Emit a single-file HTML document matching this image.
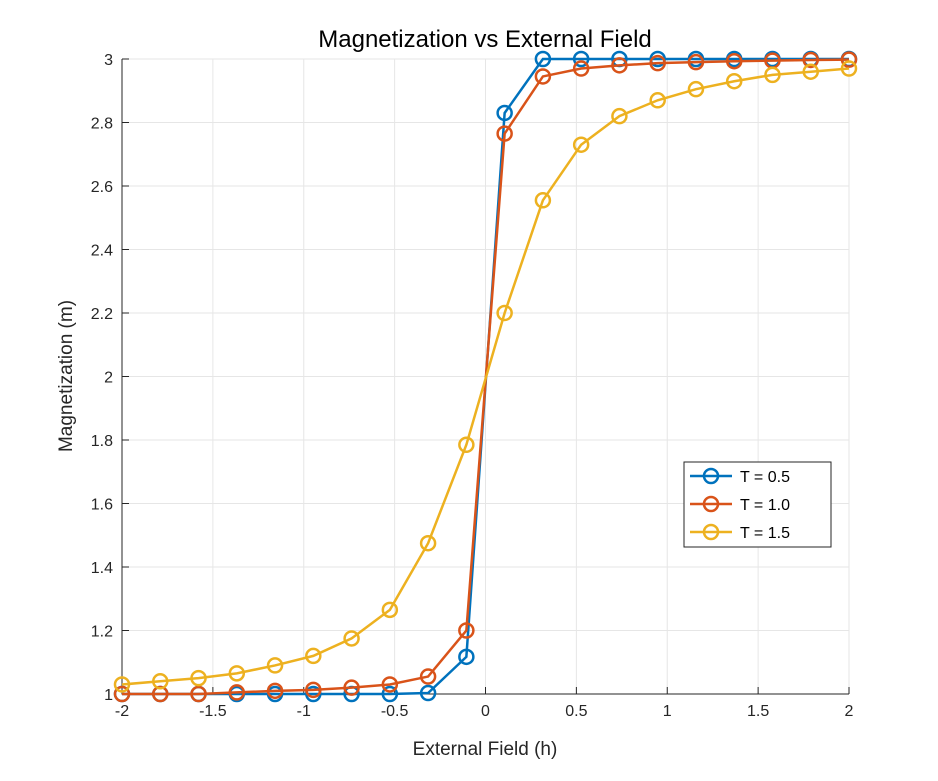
<!DOCTYPE html>
<html><head><meta charset="utf-8"><style>
body{margin:0;background:#fff;}
svg{display:block;font-family:"Liberation Sans",Arial,sans-serif;}
</style></head><body>
<svg id="chart" width="938" height="781"></svg>
<script>
const xs=[-2,-1.7895,-1.5789,-1.3684,-1.1579,-0.9474,-0.7368,-0.5263,-0.3158,-0.1053,0.1053,0.3158,0.5263,0.7368,0.9474,1.1579,1.3684,1.5789,1.7895,2];
const seriesT05=[1,1,1,1,1,1,1,1,1.003,1.117,2.83,3,3,3,3,3,3,3,3,3];
const seriesT10=[1.0,1.0,1.0,1.005,1.01,1.013,1.02,1.03,1.055,1.2,2.765,2.945,2.97,2.98,2.987,2.99,2.993,2.995,2.997,2.998];
const seriesT15=[1.03,1.04,1.05,1.065,1.09,1.12,1.175,1.265,1.475,1.785,2.2,2.555,2.73,2.82,2.87,2.905,2.93,2.95,2.96,2.97];
const xTicks=[-2,-1.5,-1,-0.5,0,0.5,1,1.5,2];
const yTicks=[1,1.2,1.4,1.6,1.8,2,2.2,2.4,2.6,2.8,3];
const seriesNames=["T = 0.5","T = 1.0","T = 1.5"];
const colors=["#0072BD","#D95319","#EDB120"];
const L=122,R=849,T=59,B=694;
const sx=v=>L+(v+2)/4*(R-L), sy=v=>B-(v-1)/2*(B-T);
const svg=document.getElementById('chart');const NS="http://www.w3.org/2000/svg";
function mk(t,a,p){const e=document.createElementNS(NS,t);for(const k in a)e.setAttribute(k,a[k]);(p||svg).appendChild(e);return e;}
mk('rect',{x:L,y:T,width:R-L,height:B-T,fill:'#fff'});
xTicks.forEach(v=>{const g=mk('line',{x1:sx(v),x2:sx(v),y1:T,y2:B,stroke:'#e6e6e6'});

mk('line',{x1:sx(v),x2:sx(v),y1:B,y2:B-7,stroke:'#262626'});
const t=mk('text',{x:sx(v),y:B+22,'text-anchor':'middle','font-size':16,fill:'#262626'});t.textContent=v;
});
yTicks.forEach(v=>{const g=mk('line',{x1:L,x2:R,y1:sy(v),y2:sy(v),stroke:'#e6e6e6'});

mk('line',{x1:L,x2:L+7,y1:sy(v),y2:sy(v),stroke:'#262626'});
const t=mk('text',{x:L-9,y:sy(v)+6,'text-anchor':'end','font-size':16,fill:'#262626'});t.textContent=+v.toFixed(1);
});
const ax=mk('path',{d:`M${L},${T}V${B}H${R}`,fill:'none',stroke:'#262626'});

[seriesT05,seriesT10,seriesT15].forEach((s,i)=>{const g=mk('g',{});

mk('polyline',{points:s.map((v,j)=>sx(xs[j])+','+sy(v)).join(' '),fill:'none',stroke:colors[i],'stroke-width':2.5},g);
s.forEach((v,j)=>{const c=mk('circle',{cx:sx(xs[j]),cy:sy(v),r:7,fill:'none',stroke:colors[i],'stroke-width':2.5},g);
});});
const title=mk('text',{x:485,y:47,'text-anchor':'middle','font-size':24,fill:'#000'});title.textContent='Magnetization vs External Field';

const xt=mk('text',{x:485,y:755,'text-anchor':'middle','font-size':19,fill:'#262626'});xt.textContent='External Field (h)';

const yt=mk('text',{x:72,y:376,'text-anchor':'middle','font-size':19,fill:'#262626',transform:'rotate(-90 72 376)'});yt.textContent='Magnetization (m)';

const lg=mk('g',{});
mk('rect',{x:684,y:462,width:147,height:85,fill:'#fff',stroke:'#262626'},lg);
seriesNames.forEach((n,i)=>{const y=476+i*28;const e=mk('g',{},lg);

mk('line',{x1:690,x2:732,y1:y,y2:y,stroke:colors[i],'stroke-width':2.5},e);
mk('circle',{cx:711,cy:y,r:7,fill:'none',stroke:colors[i],'stroke-width':2.5},e);
const t=mk('text',{x:740,y:y+6,'font-size':16,fill:'#000'},e);t.textContent=n;});
</script></body></html>
